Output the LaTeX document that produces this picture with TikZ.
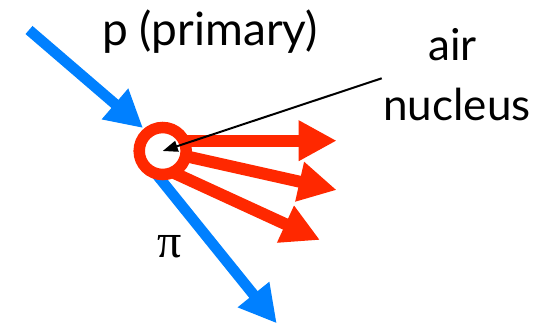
\documentclass[tikz,border=0pt]{standalone}
\usepackage{fontspec}
\setmainfont{Lato}
\newfontfamily\greekfont{Liberation Serif}
\usetikzlibrary{arrows.meta}
\definecolor{pblue}{RGB}{0,128,255}
\definecolor{pred}{RGB}{255,40,0}
\tikzset{
  beam/.style={draw=pblue, line width=10.7pt, -{Triangle[length=37pt,width=38pt]}},
  shower/.style={draw=pred, line width=12pt, -{Triangle[length=38pt,width=38pt]}},
  lbl/.style={font=\fontsize{44}{44}\selectfont, inner sep=0pt, anchor=base},
  pointer/.style={draw=black, line width=2pt, -{Triangle[length=15pt,width=11pt]}}
}
\begin{document}
\begin{tikzpicture}[x=1pt,y=-1pt]
\useasboundingbox (0,0) rectangle (551,327);
% coordinates
\coordinate (pin) at (29,30);
\coordinate (ptip) at (143,128);
\coordinate (pistart) at (149,165);
\coordinate (pitip) at (276.7,323.3);
\coordinate (c) at (162.7,151);
\coordinate (r1s) at (175,140.7);
\coordinate (r1t) at (336.7,140.7);
\coordinate (r2t) at (336.7,190);
\coordinate (r3s) at (172,172);
\coordinate (r3t) at (320,240);
% blue beams
\draw[beam] (pin) -- (ptip);
\draw[beam] (pistart) -- (pitip);
% red secondaries
\draw[shower] (r1s) -- (r1t);
\draw[shower] (c) -- (r2t);
\draw[shower] (r3s) -- (r3t);
% nucleus ring
\node[circle, draw=pred, fill=white, line width=11.5pt, minimum size=47pt, inner sep=0pt] (nuc) at (c) {};
% labels
\node[lbl, font=\fontsize{46}{46}\selectfont] (prim) at (210,45) {p (primary)};
\node[lbl] (air) at (452.4,60.7) {air};
\node[lbl] (nucl) at (457,120.7) {nucleus};
\node[font=\fontsize{48}{48}\selectfont\greekfont, inner sep=0pt, anchor=base] (pi) at (170,257) {π};
\coordinate (pstart) at (381.7,78.3);
\draw[pointer] (pstart) -- (nuc.center);
\end{tikzpicture}
\end{document}
